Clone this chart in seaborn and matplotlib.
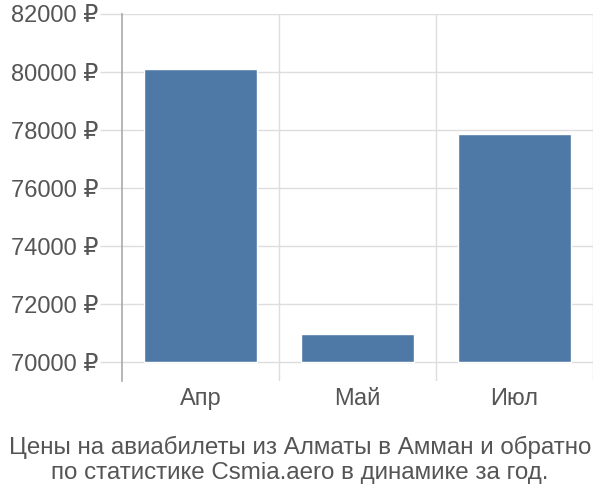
import matplotlib
matplotlib.use("Agg")
import matplotlib.pyplot as plt
import seaborn as sns
import pandas as pd
from matplotlib.ticker import FuncFormatter, FixedLocator

months = ["Апр", "Май", "Июл"]
prices = [80100, 70950, 77860]
y_ticks = [70000, 72000, 74000, 76000, 78000, 80000, 82000]
base = 70000
title = "Цены на авиабилеты из Алматы в Амман и обратно\nпо статистике Csmia.aero в динамике за год."

sns.set_theme(style="white")
plt.rcParams["font.family"] = ["Liberation Sans", "DejaVu Sans"]

df = pd.DataFrame({"month": months, "price": prices})

fig = plt.figure(figsize=(6, 5), dpi=100)
ax = fig.add_axes([122 / 600, 1 - 381 / 500, (593 - 122) / 600, (381 - 14) / 500])

sns.barplot(data=df, x="month", y="price", color="#4e79a6", width=0.72,
            saturation=1, ax=ax, zorder=3)
for p in ax.patches:
    top = p.get_y() + p.get_height()
    p.set_y(base)
    p.set_height(top - base)

ax.set_xlim(-0.5, 2.5)
ax.set_ylim(69345, 82000)
ax.yaxis.set_major_locator(FixedLocator(y_ticks))
ax.yaxis.set_major_formatter(FuncFormatter(lambda v, _: f"{int(v)} ₽"))
ax.set_xticks(range(len(months)))
ax.set_xticklabels(months)
ax.xaxis.set_minor_locator(FixedLocator([0.5, 1.5, 2.5]))

ax.grid(axis="y", which="major", color="#dddddd", linewidth=1, zorder=0)
ax.grid(axis="x", which="minor", color="#dddddd", linewidth=1, zorder=0)
ax.grid(axis="x", which="major", visible=False)

ax.tick_params(axis="y", which="major", length=16, width=1, color="#dddddd",
               pad=1, labelsize=17, labelcolor="#555555", left=True)
ax.tick_params(axis="x", which="major", length=0, pad=5, labelsize=17,
               labelcolor="#555555")
ax.tick_params(axis="x", which="minor", length=0)

for s in ["top", "right", "bottom"]:
    ax.spines[s].set_visible(False)
ax.spines["left"].set_color("#aaaaaa")
ax.spines["left"].set_linewidth(1.2)
ax.set_xlabel("")
ax.set_ylabel("")

fig.text(0.5, 1 - 460 / 500, title, ha="center", va="center", fontsize=17.4,
         color="#555555", linespacing=1.13)

fig.savefig("out.png", dpi=100)
